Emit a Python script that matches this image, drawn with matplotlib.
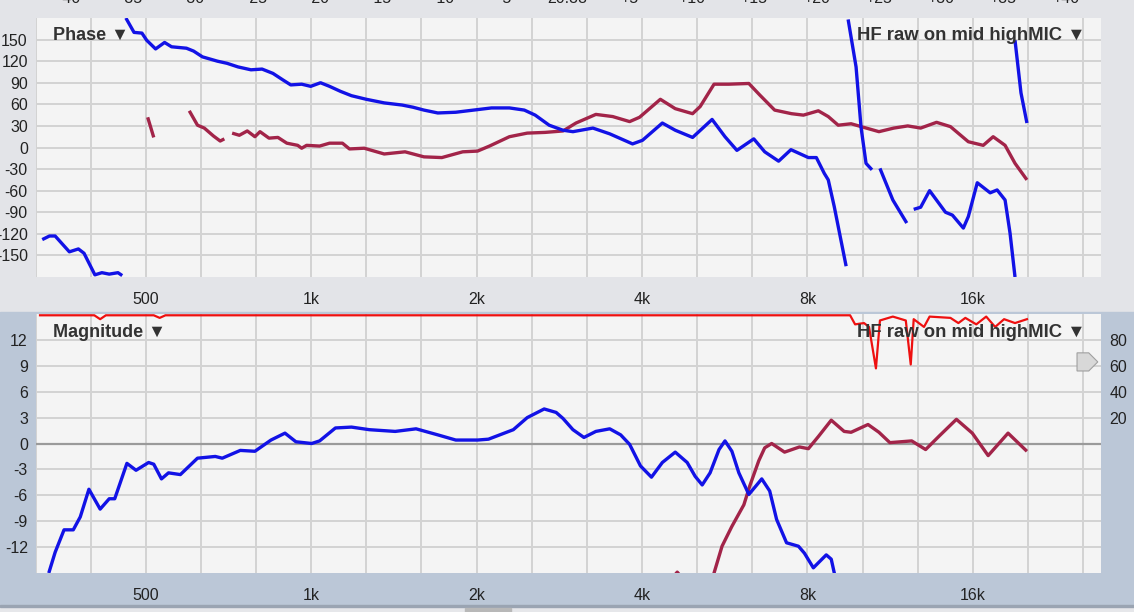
import numpy as np
import matplotlib
matplotlib.use('Agg')
import matplotlib.pyplot as plt
from matplotlib.patches import Rectangle, Polygon
import matplotlib.transforms as mtransforms

plt.rcParams['font.family'] = ['Liberation Sans', 'DejaVu Sans']
plt.rcParams['axes.unicode_minus'] = False

nan = np.nan

# ---- phase panel data (Hz, degrees); nan = break in trace ----
phase_blue_f = [324, 334, 342, 363, 377, 386, 404, 416, 429, 445, 453, nan,
                460, 476, 492, 502, 521, 541, 557, 593, 611, 634, 675, 703, 736,
                777, 814, 852, 888, 918, 961, 998, 1040, 1080, 1131, 1184, 1260,
                1358, 1464, 1532, 1604, 1700, 1833, 1975, 2129, 2295, 2443, 2557,
                2711, 2873, 2995, 3256, 3494, 3845, 4008, 4356, 4598, 4945, 5366,
                5664, 5954, 6390, 6690, 7091, 7467, 8033, 8306, 8587, 8731, 8952,
                9410, nan,
                9489, 9810, 10017, 10228, 10486, nan,
                10842, 11445, 12132, nan,
                12490, 12860, 13350, 14269, 14691, 15379, 15703, 16302, 17208,
                17717, 18317, 18702, 19096, nan,
                19096, 19579, 20074]
phase_blue = [-128, -123, -123, -145, -141, -147, -177, -174, -176, -174, -178, nan,
              180, 160, 159, 149, 137, 146, 140, 138, 134, 126, 120, 117, 112,
              108, 109, 103, 94, 87, 88, 85, 90, 85, 78, 72, 67,
              62, 59, 56, 52, 48, 49, 52, 55, 55, 52, 45,
              31, 24, 22, 27, 19, 5, 10, 34, 24, 14, 39,
              15, -4, 12, -6, -19, -3, -14, -14, -36, -45, -82,
              -165, nan,
              178, 112, 28, -22, -31, nan,
              -29, -73, -105, nan,
              -86, -83, -60, -90, -94, -112, -96, -49, -63,
              -59, -73, -119, -180, nan,
              149, 76, 34]

phase_red_f = [504, 517, nan,
               600, 621, 639, 664, 683, 695, nan,
               718, 740, 765, 790, 807, 838, 870, 903, 945, 961, 981, 1036, 1080,
               1140, 1174, 1249, 1358, 1482, 1604, 1729, 1887, 2008, 2111, 2295,
               2473, 2666, 2873, 3033, 3297, 3538, 3798, 3959, 4320, 4598, 4945,
               5105, 5410, 5758, 6259, 6552, 6974, 7484, 7868, 8375, 8731, 9102,
               9608, 10797, 11492, 12183, 12860, 13745, 14570, 15703, 16715,
               17424, 18317, 19096, 20074]
phase_red = [42, 14, nan,
             51, 31, 27, 16, 9, 12, nan,
             20, 17, 23, 15, 22, 13, 14, 6, 3, -1, 3, 2, 6,
             6, -2, -1, -9, -6, -13, -14, -6, -5, 2, 15,
             20, 21, 23, 34, 46, 43, 36, 42, 67, 54, 47,
             57, 88, 88, 89, 73, 52, 47, 45, 51, 43, 31,
             33, 22, 27, 30, 27, 35, 29, 8, 3,
             15, 3, -22, -45]

# ---- magnitude panel data (Hz, dB) ----
mag_blue_f = [333, 342, 355, 369, 380, 394, 413, 429, 439, 462, 480, 506, 517,
              534, 550, 578, 621, 669, 689, 743, 790, 845, 896, 938, 1002, 1036,
              1107, 1184, 1276, 1422, 1552, 1700, 1833, 2008, 2102, 2333, 2473,
              2655, 2791, 2873, 2995, 3136, 3297, 3494, 3658, 3798, 3975, 4162,
              4356, 4598, 4834, 4998, 5148, 5321, 5524, 5664, 5830, 6003, 6259,
              6471, 6607, 6831, 7032, 7331, 7706, 7900, 8202, 8658, 8841, 8990]
mag_blue = [-15, -12.6, -10, -10, -8.5, -5.3, -7.6, -6.4, -6.4, -2.3, -3.1, -2.2, -2.4,
            -4.1, -3.4, -3.6, -1.7, -1.5, -1.7, -0.8, -0.9, 0.4, 1.2, 0.2, 0, 0.3,
            1.8, 1.9, 1.6, 1.4, 1.7, 1.0, 0.4, 0.4, 0.5, 1.6, 3.0,
            4.0, 3.6, 2.9, 1.6, 0.7, 1.4, 1.7, 1.0, -0.1, -2.6, -3.9,
            -2.2, -1.0, -2.2, -3.8, -4.8, -3.4, -0.7, 0.3, -0.9, -3.4, -5.9,
            -4.8, -4.1, -5.5, -8.8, -11.5, -11.9, -12.7, -14.4, -12.9, -13.4, -15.5]

mag_red_f = [4541, 4637, 4734, nan,
             5321, 5410, 5594, 5830, 6130, 6285, 6525, 6690, 6888, 7270, 7738,
             8033, 8375, 8841, 9332, 9608, 10314, 10797, 11303, 12386, 13130,
             13917, 14938, 15966, 17065, 18547, 20074]
mag_red = [-15.6, -14.9, -15.6, nan,
           -17, -15, -11.9, -9.6, -7.1, -4.9, -2.0, -0.5, 0.0, -1.0, -0.4,
           -0.6, 0.8, 2.7, 1.4, 1.3, 2.2, 1.3, 0.1, 0.3, -0.7,
           0.9, 2.8, 1.2, -1.4, 1.2, -0.9]

# coherence trace, right axis
coh_f = [321, 403, 413, 423, 517, 530, 543, 9568, 9770, 10143, 10357, 10662,
         10842, 11445, 12083, 12336, 12490, 13042, 13350, 14570, 15062, 15508,
         16235, 16924, 17571, 18241, 19096, 20074]
coh = [99, 99, 96, 99, 99, 97, 99, 99, 92, 93, 90, 58,
       95, 98, 95, 61, 96, 90, 98, 97, 93, 97,
       92, 98, 90, 96, 93, 96]

freq_ticks = [500, 1000, 2000, 4000, 8000, 16000]
freq_labels = ['500', '1k', '2k', '4k', '8k', '16k']
top_ruler = ['-40', '-35', '-30', '-25', '-20', '-15', '-10', '-5', '20.38',
             '+5', '+10', '+15', '+20', '+25', '+30', '+35', '+40']

BLUE = '#1212e6'
MAROON = '#a22449'
PANEL_TOP = '#e3e4e8'
PANEL_BOT = '#bbc7d7'
PLOT_BG = '#f4f4f4'
GRID = '#d3d3d3'
TXT = '#222222'

W, H = 1134, 612
fig = plt.figure(figsize=(W / 100, H / 100), dpi=100)

def fx(px):
    return px / W

def fy(py):
    return 1 - py / H

# panel backgrounds
fig.patches.append(Rectangle((0, fy(312)), 1, 1 - fy(312), transform=fig.transFigure,
                             color=PANEL_TOP, zorder=-10))
fig.patches.append(Rectangle((0, fy(606)), 1, fy(312) - fy(606), transform=fig.transFigure,
                             color=PANEL_BOT, zorder=-10))
fig.patches.append(Rectangle((0, 0), 1, fy(606), transform=fig.transFigure,
                             color='#e6e7ea', zorder=-10))
fig.patches.append(Rectangle((0, fy(607)), 1, fy(605) - fy(607), transform=fig.transFigure,
                             color='#9aa4b2', zorder=-9))
fig.patches.append(Rectangle((fx(465), 0), fx(46), fy(608), transform=fig.transFigure,
                             color='#b8b8b8', zorder=-9))

x0, x1 = 35.5, 1101
ax1 = fig.add_axes([fx(x0), fy(277), fx(x1 - x0), fy(18) - fy(277)])
ax2 = fig.add_axes([fx(x0), fy(573), fx(x1 - x0), fy(314) - fy(573)])

# third-octave grid
grid_f = 500 * 2 ** (np.arange(-2, 18) / 3)
for ax in (ax1, ax2):
    ax.set_facecolor(PLOT_BG)
    ax.set_xscale('log', base=2)
    ax.set_xlim(323.6, 27380)
    ax.set_xticks(freq_ticks)
    ax.set_xticklabels(freq_labels)
    ax.set_xticks(grid_f, minor=True)
    ax.xaxis.set_minor_formatter(plt.NullFormatter())
    ax.grid(True, which='both', axis='x', color=GRID, lw=1.4)
    ax.grid(True, which='major', axis='y', color=GRID, lw=1.4)
    ax.tick_params(which='both', length=0, labelsize=11.5, colors=TXT)
    ax.tick_params(axis='x', pad=11)
    ax.tick_params(axis='y', pad=5.5)
    for s in ax.spines.values():
        s.set_visible(False)
    ax.set_axisbelow(True)

line_kw = dict(lw=2.4, solid_joinstyle='round', solid_capstyle='butt')

# phase panel
ax1.set_ylim(-180, 180)
ax1.set_yticks(range(-150, 151, 30))
ax1.plot(phase_red_f, phase_red, color=MAROON, **line_kw)
ax1.plot(phase_blue_f, phase_blue, color=BLUE, **line_kw)
ax1.text(0.016, 0.934, 'Phase \u25bc', transform=ax1.transAxes, fontsize=13,
         fontweight='bold', color='#333333', va='center', ha='left')
ax1.text(0.985, 0.934, 'HF raw on mid highMIC \u25bc', transform=ax1.transAxes,
         fontsize=13.3, fontweight='bold', color='#333333', va='center', ha='right')

# magnitude panel
ax2.set_ylim(-15, 15)
ax2.set_yticks(range(-12, 13, 3))
ax2.axhline(0, color='#9a9a9a', lw=1.6, zorder=1)
ax2r = ax2.twinx()
ax2r.set_ylim(-100, 100)
ax2r.set_yticks([20, 40, 60, 80])
ax2r.tick_params(length=0, labelsize=11.5, colors=TXT, pad=6)
for s in ax2r.spines.values():
    s.set_visible(False)
ax2r.plot(coh_f, coh, color='#ee1010', lw=1.6, solid_joinstyle='round', zorder=2)
ax2.plot(mag_red_f, mag_red, color=MAROON, zorder=3, **line_kw)
ax2.plot(mag_blue_f, mag_blue, color=BLUE, zorder=3, **line_kw)
ax2r.text(0.016, 0.93, 'Magnitude \u25bc', transform=ax2.transAxes, fontsize=13,
          fontweight='bold', color='#333333', va='center', ha='left', zorder=5)
ax2r.text(0.985, 0.93, 'HF raw on mid highMIC \u25bc', transform=ax2.transAxes,
          fontsize=13.3, fontweight='bold', color='#333333', va='center', ha='right', zorder=5)

# grey slider arrow on the right axis
trans = mtransforms.blended_transform_factory(ax2r.transAxes, ax2r.transData)
ax2r.add_patch(Polygon([(0.9775, 70), (0.9885, 70), (0.997, 63), (0.9885, 56), (0.9775, 56)],
                       closed=True, transform=trans, facecolor='#d8d8d8',
                       edgecolor='#a0a0a0', lw=0.8, clip_on=False, zorder=6))

# ruler labels cut by the top edge
for i, lab in enumerate(top_ruler):
    fig.text(fx(567 + 62.3 * (i - 8)), fy(6), lab, ha='center', va='bottom',
             fontsize=11.5, color=TXT)

fig.savefig('out.png', dpi=100)
